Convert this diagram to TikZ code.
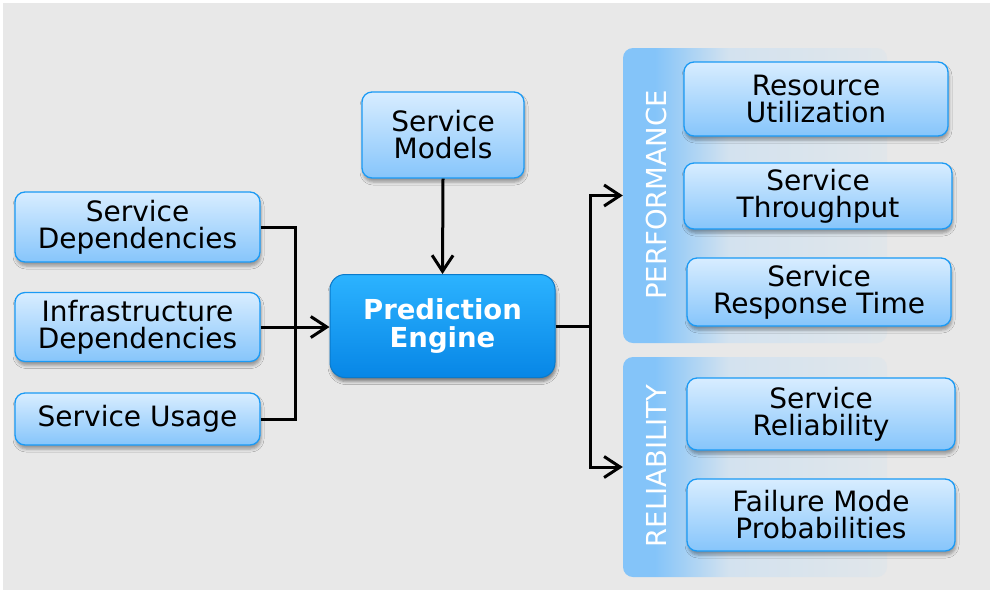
\documentclass[tikz,border=0pt]{standalone}
\usepackage{fontspec}
\setmainfont{DejaVu Sans}
\usetikzlibrary{arrows.meta,shadows.blur}

\definecolor{bgray}{HTML}{E8E8E8}
\definecolor{boxtop}{HTML}{D8EDFF}
\definecolor{boxbot}{HTML}{86C5FB}
\definecolor{boxedge}{HTML}{1A9AF5}
\definecolor{engtop}{HTML}{2CB3FF}
\definecolor{engbot}{HTML}{0786E6}
\definecolor{engedge}{HTML}{0A7ACB}
\definecolor{panA}{HTML}{84C4F9}
\definecolor{panB}{HTML}{D3E2EF}
\definecolor{panC}{HTML}{E1E6EA}

% soft blue strip on the left of each category panel, fading to grey
\pgfdeclarehorizontalshading{panelshade}{100bp}{%
  color(0bp)=(panA); color(31bp)=(panA); color(45bp)=(panB);
  color(75bp)=(panC); color(100bp)=(panC)}

\tikzset{
  box/.style={draw=boxedge, line width=1.3pt, rounded corners=10pt,
    top color=boxtop, bottom color=boxbot,
    blur shadow={shadow xshift=1pt, shadow yshift=-4pt,
      shadow blur radius=3pt, shadow opacity=35},
    align=center, inner sep=0pt, text=black,
    font=\fontsize{28}{27}\selectfont},
  engine/.style={draw=engedge, line width=1pt, rounded corners=15pt,
    top color=engtop, bottom color=engbot,
    blur shadow={shadow xshift=1pt, shadow yshift=-4pt,
      shadow blur radius=3pt, shadow opacity=45},
    align=center, inner sep=0pt, text=white,
    font=\fontsize{27.5}{28}\selectfont\bfseries},
  panel/.style={rounded corners=10pt, shading=panelshade, inner sep=0pt},
  vlabel/.style={rotate=90, text=white, font=\fontsize{27.5}{28}\selectfont},
  wire/.style={line width=3pt, black},
  arr/.style={wire, -{Straight Barb[length=16pt, width=21pt, line width=3pt]}},
}

\begin{document}
\begin{tikzpicture}[x=1pt, y=-1pt]
  % canvas
  \fill[white] (0,0) rectangle (990,590);
  \fill[bgray] (3,3) rectangle (990,590);
  \useasboundingbox (0,0) rectangle (990,590);

  % category panels
  \node[panel, minimum width=264pt, minimum height=295pt] (perf) at (755,195.5) {};
  \node[panel, minimum width=264pt, minimum height=220pt] (rel) at (755,467) {};
  \node[vlabel] (perflbl) at (656,195) {PERFORMANCE};
  \node[vlabel] (rellbl) at (656,466) {RELIABILITY};

  % inputs
  \node[box, minimum width=162pt, minimum height=86pt] (sm) at (443,135) {Service\\Models};
  \node[box, minimum width=245pt, minimum height=70pt] (sd) at (137.5,227) {Service\\Dependencies};
  \node[box, minimum width=245pt, minimum height=69pt] (id) at (137.5,327) {Infrastructure\\Dependencies};
  \node[box, minimum width=245pt, minimum height=52pt] (su) at (137.5,419) {Service Usage};

  % engine
  \node[engine, minimum width=225pt, minimum height=103pt] (pe) at (442.5,326) {Prediction\\Engine};

  % outputs
  \node[box, minimum width=264pt, minimum height=74pt] (ru) at (816,99) {Resource\\Utilization};
  \node[box, minimum width=268pt, minimum height=66pt] (st) at (818,196) {Service\\Throughput};
  \node[box, minimum width=264pt, minimum height=68pt] (srt) at (819,292) {Service\\Response Time};
  \node[box, minimum width=268pt, minimum height=72pt] (sr) at (821,414) {Service\\Reliability};
  \node[box, minimum width=268pt, minimum height=72pt] (fmp) at (821,515) {Failure Mode\\Probabilities};

  % connectors into the engine
  \coordinate (jl) at (295,327);
  \draw[wire] (sd.east) -| (jl) |- (su.east);
  \draw[arr] (id.east) -- (id.east -| pe.west);
  \draw[arr] (sm.south) -- (pe.north);

  % connectors out of the engine
  \coordinate (jr) at (590,326);
  \draw[wire] (pe.east) -- (jr);
  \draw[arr] (jr) |- (perf.west);
  \draw[arr] (jr) |- (rel.west);
\end{tikzpicture}
\end{document}
